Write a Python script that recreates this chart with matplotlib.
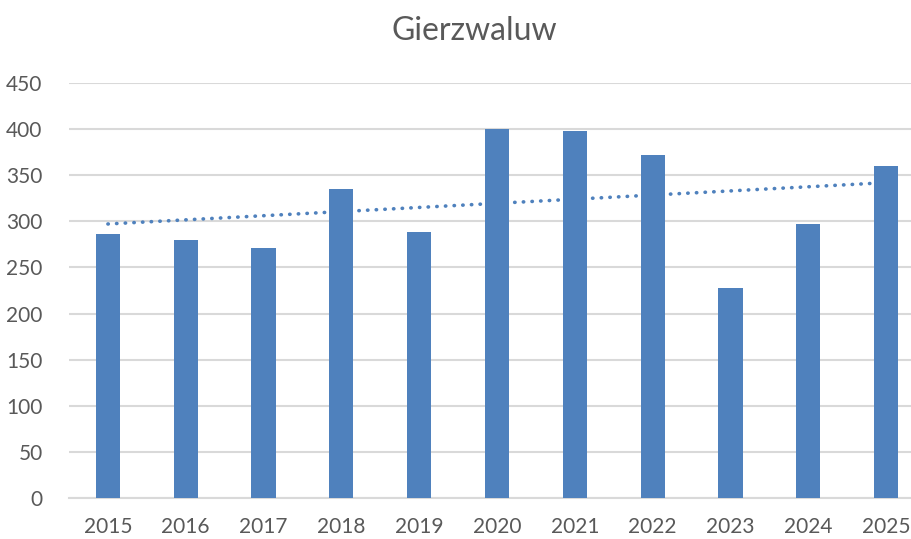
import matplotlib.pyplot as plt
import numpy as np

plt.rcParams['font.family'] = ['Lato', 'DejaVu Sans']

years = ['2015', '2016', '2017', '2018', '2019', '2020', '2021', '2022', '2023', '2024', '2025']
counts = [286, 280, 271, 335, 288, 400, 398, 372, 228, 297, 360]

bar_col = '#4F81BD'
txt_col = '#595959'
grid_col = '#D9D9D9'

fig = plt.figure(figsize=(9.12, 5.39), dpi=100)
ax = fig.add_axes([69 / 912, 41 / 539, 856 / 912, 415 / 539])

x = np.arange(len(years))
ax.bar(x, counts, width=0.31, color=bar_col, zorder=3)

# linear trendline
k, b = np.polyfit(x, counts, 1)
ax.plot(x, k * x + b, color=bar_col, lw=2.6, ls=(0, (0.1, 2.3)),
        dash_capstyle='round', zorder=4)

ax.set_xlim(-0.5, len(years) - 0.5)
ax.set_ylim(0, 450)
ax.set_yticks(range(0, 451, 50))
ax.set_xticks(x)
ax.set_xticklabels(years)
ax.grid(axis='y', color=grid_col, lw=1.5, zorder=0)
ax.set_axisbelow(True)
for s in ['top', 'right', 'left']:
    ax.spines[s].set_visible(False)
ax.spines['bottom'].set_color(grid_col)
ax.spines['bottom'].set_linewidth(1.5)
ax.tick_params(length=0, colors=txt_col, labelsize=15)
ax.tick_params(axis='x', pad=14)
ax.tick_params(axis='y', pad=19)

fig.text(0.52, 0.943, 'Gierzwaluw', ha='center', va='center', fontsize=23, color=txt_col)

fig.savefig('out.png', dpi=100)
